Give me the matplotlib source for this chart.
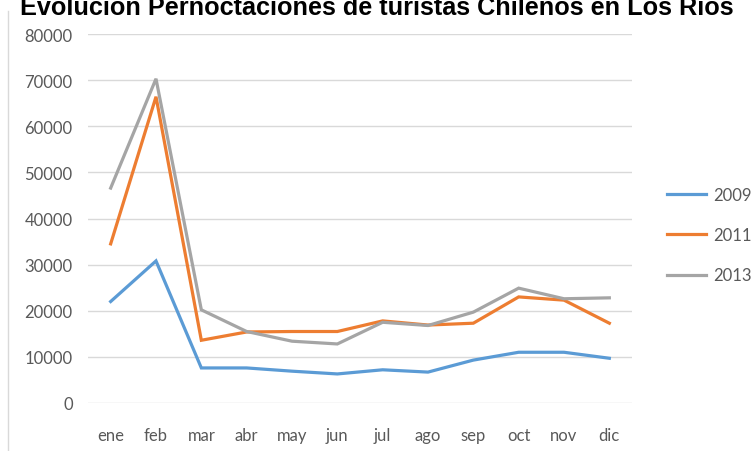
import matplotlib.pyplot as plt
from matplotlib.lines import Line2D

months = ['ene', 'feb', 'mar', 'abr', 'may', 'jun', 'jul', 'ago', 'sep', 'oct', 'nov', 'dic']
y2009 = [22000, 30800, 7600, 7600, 6900, 6300, 7200, 6700, 9300, 11000, 11000, 9700]
y2011 = [34500, 66400, 13600, 15400, 15500, 15500, 17800, 16900, 17300, 23000, 22300, 17300]
y2013 = [46600, 70300, 20200, 15500, 13400, 12800, 17500, 16800, 19700, 24900, 22600, 22800]
series = ['2009', '2011', '2013']
colors = ['#5B9BD5', '#ED7D31', '#A5A5A5']
yticks = [0, 10000, 20000, 30000, 40000, 50000, 60000, 70000, 80000]

fig = plt.figure(figsize=(7.54, 4.52), dpi=100)
ax = fig.add_axes([88/754, 48/452, 544/754, 369/452])

x = range(len(months))
for vals, lab, c in zip([y2009, y2011, y2013], series, colors):
    ax.plot(x, vals, color=c, lw=2.3, label=lab, solid_joinstyle='miter', zorder=3)

ax.set_xlim(-0.5, len(months) - 0.5)
ax.set_ylim(0, 80000)
ax.set_yticks(yticks)
ax.set_yticklabels([str(v) for v in yticks])
ax.set_xticks(list(x))
ax.set_xticklabels(months)
ax.grid(axis='y', color='#D9D9D9', lw=1)
ax.set_axisbelow(True)
for s in ax.spines.values():
    s.set_visible(False)
ax.tick_params(length=0, labelsize=12, labelcolor='#595959')
ax.tick_params(axis='y', pad=11)
ax.tick_params(axis='x', pad=17)
for t in ax.get_xticklabels() + ax.get_yticklabels():
    t.set_fontfamily('Lato')

# legend on the right
handles = [Line2D([], [], color=c, lw=2.3) for c in colors]
leg = fig.legend(handles, series, loc='upper left', bbox_to_anchor=(667/754, 1 - 188/452),
                 frameon=False, borderpad=0, borderaxespad=0,
                 handlelength=2.35, handletextpad=0.4, labelspacing=1.45,
                 prop={'family': 'Lato', 'size': 12})
for t in leg.get_texts():
    t.set_color('#595959')

# chart frame edge on the left
fig.add_artist(Line2D([8/754, 8/754], [0, 1 - 12/452], color='#D9D9D9', lw=1))

fig.text(0.5, 1 - 15/452, 'Evolución Pernoctaciones de turistas Chilenos en Los Ríos',
         ha='center', va='baseline', fontsize=18.2, fontweight='bold', family='Liberation Sans')

fig.savefig('out.png', dpi=100)
